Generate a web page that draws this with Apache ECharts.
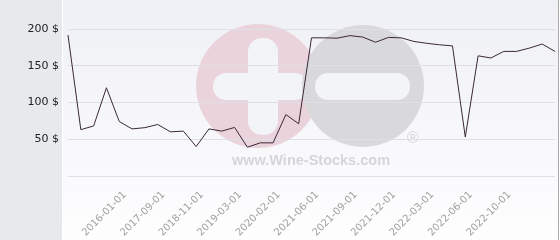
<!DOCTYPE html>
<html>
<head>
<meta charset="utf-8">
<script src="https://cdn.jsdelivr.net/npm/echarts@6/dist/echarts.min.js"></script>
<style>
html,body{margin:0;padding:0;background:#fff;}
#c{width:560px;height:240px;}
</style>
</head>
<body>
<div id="c"></div>
<script>
const categories = [
  '2014-01-01','2014-09-01','2015-03-01','2015-07-01','2016-01-01','2016-06-01','2017-01-01','2017-09-01',
  '2017-12-01','2018-05-01','2018-11-01','2018-12-01','2019-01-01','2019-03-01','2019-06-01','2019-10-01',
  '2020-02-01','2020-09-01','2021-01-01','2021-06-01','2021-07-01','2021-08-01','2021-09-01','2021-10-01',
  '2021-11-01','2021-12-01','2022-01-01','2022-02-01','2022-03-01','2022-04-01','2022-05-01','2022-06-01',
  '2022-07-01','2022-08-01','2022-10-01','2022-11-01','2022-12-01','2023-01-01','2023-02-01'
];
const prices = [
  191.7, 63, 68, 120, 74, 64, 65.7, 70, 60, 61, 40, 64, 61, 66, 39, 45, 45, 83.5, 71,
  188, 188, 187.5, 191, 189, 182, 188.5, 188, 183, 180.5, 178.5, 177, 53, 163.5, 160.5,
  169.5, 169.5, 174, 179.5, 169.5
];
const shownLabels = [
  '2016-01-01','2017-09-01','2018-11-01','2019-03-01','2020-02-01','2021-06-01',
  '2021-09-01','2021-12-01','2022-03-01','2022-06-01','2022-10-01'
];
const yTicks = [0, 50, 100, 150, 200];
const watermarkText = 'www.Wine-Stocks.com';

const chart = echarts.init(document.getElementById('c'), null, {renderer: 'canvas'});
const barFill = '#f3f4f8';
chart.setOption({
  animation: false,
  backgroundColor: '#ffffff',
  graphic: [
    {type: 'rect', z: -20, shape: {x: 0, y: 0, width: 62, height: 240}, style: {fill: '#e6eaed'}},
    {type: 'rect', z: -20, shape: {x: 63, y: 0, width: 495, height: 240},
      style: {fill: new echarts.graphic.LinearGradient(0, 0, 0, 1, [
        {offset: 0, color: '#eff0f5'}, {offset: 1, color: '#fefeff'}])}},
    {type: 'rect', z: -20, shape: {x: 558, y: 0, width: 1, height: 240}, style: {fill: '#a9a9a9'}},
    {type: 'circle', z: -15, shape: {cx: 258, cy: 86, r: 62}, style: {fill: '#ead3da'}},
    {type: 'rect', z: -14, shape: {x: 248, y: 38, width: 30, height: 97, r: 14}, style: {fill: barFill}},
    {type: 'rect', z: -14, shape: {x: 213, y: 73, width: 95, height: 27, r: 13}, style: {fill: barFill}},
    {type: 'circle', z: -13, shape: {cx: 363, cy: 86, r: 61}, style: {fill: '#d9d9dc'}},
    {type: 'rect', z: -12, shape: {x: 315, y: 73, width: 95, height: 27, r: 13}, style: {fill: barFill}},
    {type: 'text', z: -12, style: {x: 311, y: 161, text: watermarkText, fill: '#d6d6d9',
      font: 'bold 14.5px "Liberation Sans", Arial, sans-serif', align: 'center', verticalAlign: 'middle'}},
    {type: 'text', z: -12, style: {x: 413, y: 139, text: '\u00AE', fill: '#d6d6d9',
      font: '16px "Liberation Sans", Arial, sans-serif', align: 'center', verticalAlign: 'middle'}}
  ],
  grid: {left: 68, right: 5, top: 29, bottom: 62, containLabel: false},
  xAxis: {
    type: 'category',
    data: categories,
    boundaryGap: false,
    axisLine: {show: false},
    axisTick: {show: false},
    splitLine: {show: false},
    axisLabel: {
      interval: (i, v) => shownLabels.indexOf(v) >= 0,
      rotate: 45,
      margin: 23,
      padding: [0, -8, 0, 0],
      color: '#a0a0a0',
      fontSize: 10,
      fontFamily: 'DejaVu Sans'
    }
  },
  yAxis: {
    type: 'value',
    min: yTicks[0],
    max: yTicks[yTicks.length - 1],
    interval: 50,
    axisLine: {show: false},
    axisTick: {show: false},
    splitLine: {lineStyle: {color: '#dfe0e6', width: 1}},
    axisLabel: {
      margin: 9,
      color: '#222222',
      fontSize: 11,
      fontFamily: 'DejaVu Sans',
      formatter: (v) => (v === 0 ? '' : v + ' $')
    }
  },
  series: [{
    type: 'line',
    data: prices,
    symbol: 'none',
    lineStyle: {color: '#3b2836', width: 1},
    z: 5
  }]
});
</script>
</body>
</html>
